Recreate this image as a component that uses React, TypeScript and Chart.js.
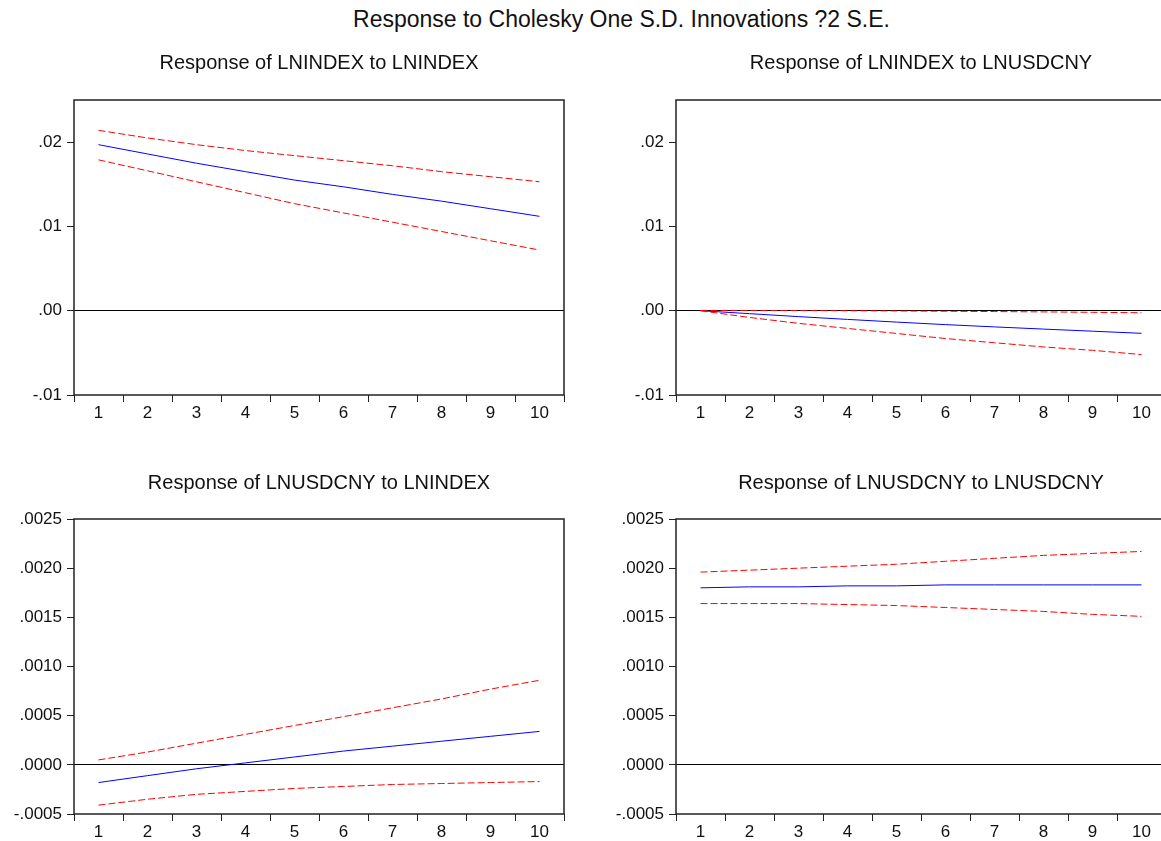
import React, { useEffect, useRef } from 'react';
import { Chart, registerables } from 'chart.js';

Chart.register(...registerables);

// ---------- data ----------
const periods = ['1', '2', '3', '4', '5', '6', '7', '8', '9', '10'];

// Response of LNINDEX to LNINDEX
const idxToIdx = [0.0197, 0.0186, 0.0175, 0.0165, 0.0155, 0.0147, 0.0138, 0.0130, 0.0121, 0.0112];
const idxToIdxUpper = [0.0214, 0.0205, 0.0197, 0.0190, 0.0184, 0.0178, 0.0172, 0.0165, 0.0159, 0.0153];
const idxToIdxLower = [0.0179, 0.0166, 0.0153, 0.0140, 0.0127, 0.0116, 0.0105, 0.0094, 0.0083, 0.0072];

// Response of LNINDEX to LNUSDCNY
const idxToFx = [0.0, -0.00035, -0.0007, -0.00103, -0.00135, -0.00165, -0.00192, -0.00218, -0.00243, -0.00268];
const idxToFxUpper = [0.00003, 0.00003, 0.00002, 0.0, -0.00003, -0.00006, -0.0001, -0.00014, -0.00019, -0.00024];
const idxToFxLower = [0.0, -0.0008, -0.0015, -0.0021, -0.0027, -0.0033, -0.0038, -0.0043, -0.0047, -0.0052];

// Response of LNUSDCNY to LNINDEX
const fxToIdx = [-0.00018, -0.00011, -0.00004, 0.00002, 0.00008, 0.00014, 0.00019, 0.00024, 0.00029, 0.00034];
const fxToIdxUpper = [0.00005, 0.00013, 0.00022, 0.00031, 0.0004, 0.00049, 0.00058, 0.00067, 0.00077, 0.00086];
const fxToIdxLower = [-0.00041, -0.00035, -0.0003, -0.00027, -0.00024, -0.00022, -0.0002, -0.00019, -0.00018, -0.00017];

// Response of LNUSDCNY to LNUSDCNY
const fxToFx = [0.0018, 0.00181, 0.00181, 0.00182, 0.00182, 0.00183, 0.00183, 0.00183, 0.00183, 0.00183];
const fxToFxUpper = [0.00196, 0.00198, 0.002, 0.00202, 0.00204, 0.00207, 0.0021, 0.00213, 0.00215, 0.00217];
const fxToFxLower = [0.00164, 0.00164, 0.00164, 0.00163, 0.00162, 0.0016, 0.00158, 0.00156, 0.00153, 0.00151];

const mainTitle = 'Response to Cholesky One S.D. Innovations ?2 S.E.';
const titles = [
  'Response of LNINDEX to LNINDEX',
  'Response of LNINDEX to LNUSDCNY',
  'Response of LNUSDCNY to LNINDEX',
  'Response of LNUSDCNY to LNUSDCNY',
];

const FONT = "'Liberation Sans', Arial, Helvetica, sans-serif";

const framePlugin = {
  id: 'frame',
  afterDraw(chart: any) {
    const { ctx, chartArea } = chart;
    ctx.save();
    ctx.strokeStyle = '#222';
    ctx.lineWidth = 1.5;
    ctx.strokeRect(chartArea.left, chartArea.top, chartArea.right - chartArea.left, chartArea.bottom - chartArea.top);
    ctx.restore();
  },
};

function fmt(v: number, d: number) {
  const s = (Math.abs(v) < 1e-12 ? 0 : v).toFixed(d);
  return s.replace(/^(-?)0\./, '$1.');
}

type PanelProps = {
  title: string;
  resp: number[];
  upper: number[];
  lower: number[];
  yMin: number;
  yMax: number;
  yStep: number;
  decimals: number;
  left: number;
  top: number;
  width: number;
  height: number;
  yAxisWidth: number;
  padRight: number;
  titleTop: number;
  titleBottom: number;
};

function Panel(p: PanelProps) {
  const ref = useRef<HTMLCanvasElement>(null);
  useEffect(() => {
    const lineBase = { pointRadius: 0, borderWidth: 1, tension: 0, fill: false };
    const chart = new Chart(ref.current as HTMLCanvasElement, {
      type: 'line',
      data: {
        labels: periods,
        datasets: [
          { ...lineBase, data: p.upper, borderColor: '#FF0000', borderDash: [7, 3] },
          { ...lineBase, data: p.lower, borderColor: '#FF0000', borderDash: [7, 3] },
          { ...lineBase, data: p.resp, borderColor: '#0000FF' },
        ],
      },
      options: {
        responsive: false,
        animation: false,
        devicePixelRatio: 1,
        layout: { padding: { left: 0, right: p.padRight, top: 0, bottom: 0 } },
        plugins: {
          legend: { display: false },
          tooltip: { enabled: false },
          title: {
            display: true,
            text: p.title,
            fullSize: false,
            color: '#111',
            font: { family: FONT, size: 20, weight: 'normal', lineHeight: '24px' },
            padding: { top: p.titleTop, bottom: p.titleBottom },
          },
        },
        scales: {
          x: {
            type: 'category',
            offset: true,
            afterFit: (s: any) => {
              s.height = 40;
            },
            grid: {
              offset: true,
              drawOnChartArea: false,
              drawTicks: true,
              tickLength: 7,
              tickColor: '#222',
              lineWidth: 1,
            },
            border: { display: false },
            ticks: {
              autoSkip: false,
              maxRotation: 0,
              padding: 1,
              color: '#111',
              font: { family: FONT, size: 17 },
            },
          },
          y: {
            type: 'linear',
            min: p.yMin,
            max: p.yMax,
            afterFit: (s: any) => {
              s.width = p.yAxisWidth;
            },
            grid: {
              drawOnChartArea: true,
              drawTicks: true,
              tickLength: 7,
              color: (c: any) => (c.tick && Math.abs(c.tick.value) < 1e-12 ? '#000' : 'rgba(0,0,0,0)'),
              tickColor: '#222',
              lineWidth: 1,
            },
            border: { display: false },
            ticks: {
              stepSize: p.yStep,
              includeBounds: false,
              padding: 5,
              color: '#111',
              font: { family: FONT, size: 17 },
              callback: (v: any) => fmt(Number(v), p.decimals),
            },
          },
        },
      },
      plugins: [framePlugin],
    } as any);
    return () => chart.destroy();
  }, []);
  return (
    <canvas
      ref={ref}
      width={p.width}
      height={p.height}
      style={{ position: 'absolute', left: p.left, top: p.top, width: p.width, height: p.height, display: 'block' }}
    />
  );
}

export default function App() {
  return (
    <div
      style={{
        position: 'fixed',
        left: 0,
        top: 0,
        width: 1161,
        height: 841,
        overflow: 'hidden',
        background: '#fff',
      }}
    >
      <div
        style={{
          position: 'absolute',
          left: 0,
          top: 8,
          width: 1243,
          textAlign: 'center',
          fontFamily: FONT,
          fontSize: 23,
          lineHeight: '23px',
          color: '#111',
          whiteSpace: 'nowrap',
        }}
      >
        {mainTitle}
      </div>
      <Panel title={titles[0]} resp={idxToIdx} upper={idxToIdxUpper} lower={idxToIdxLower}
        yMin={-0.01} yMax={0.025} yStep={0.01} decimals={2}
        left={0} top={40} width={580} height={395} yAxisWidth={74} padRight={16}
        titleTop={11} titleBottom={25} />
      <Panel title={titles[1]} resp={idxToFx} upper={idxToFxUpper} lower={idxToFxLower}
        yMin={-0.01} yMax={0.025} yStep={0.01} decimals={2}
        left={600} top={40} width={600} height={395} yAxisWidth={76} padRight={34}
        titleTop={11} titleBottom={25} />
      <Panel title={titles[2]} resp={fxToIdx} upper={fxToIdxUpper} lower={fxToIdxLower}
        yMin={-0.0005} yMax={0.0025} yStep={0.0005} decimals={4}
        left={0} top={460} width={580} height={394} yAxisWidth={74} padRight={16}
        titleTop={11} titleBottom={24} />
      <Panel title={titles[3]} resp={fxToFx} upper={fxToFxUpper} lower={fxToFxLower}
        yMin={-0.0005} yMax={0.0025} yStep={0.0005} decimals={4}
        left={600} top={460} width={600} height={394} yAxisWidth={76} padRight={34}
        titleTop={11} titleBottom={24} />
    </div>
  );
}
